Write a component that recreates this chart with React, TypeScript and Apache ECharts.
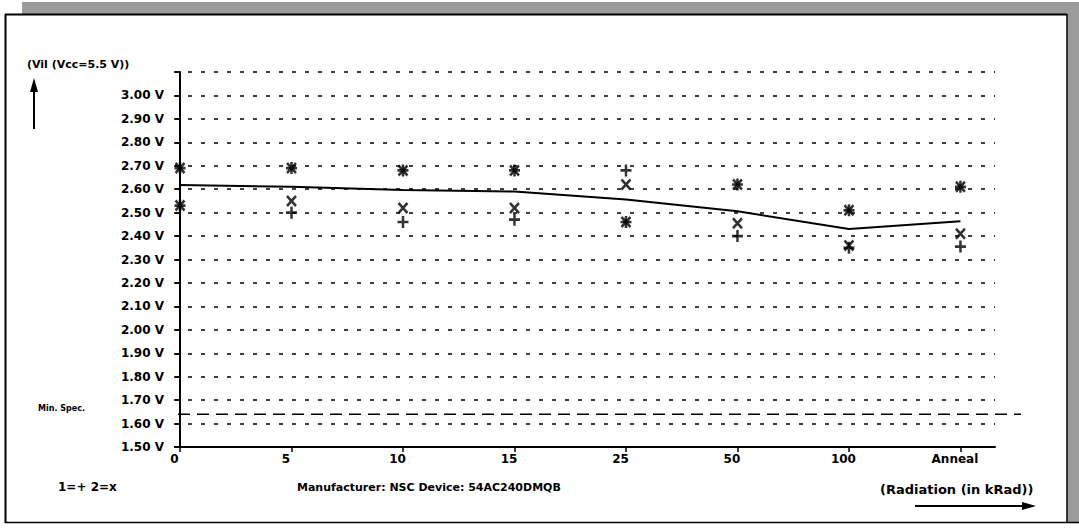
import React, { useEffect, useRef } from "react";
import * as echarts from "echarts";

const categories = ["0", "5", "10", "15", "25", "50", "100", "Anneal"];
// series 1 (+), two devices
const plusUpper = [2.69, 2.69, 2.68, 2.68, 2.68, 2.62, 2.51, 2.61];
const plusLower = [2.53, 2.5, 2.46, 2.47, 2.46, 2.4, 2.35, 2.355];
// series 2 (x), two devices
const crossUpper = [2.69, 2.69, 2.68, 2.68, 2.62, 2.62, 2.51, 2.61];
const crossLower = [2.53, 2.55, 2.52, 2.52, 2.46, 2.455, 2.36, 2.41];
// average line
const meanLine = [2.618, 2.61, 2.597, 2.59, 2.556, 2.506, 2.43, 2.463];
const minSpec = 1.64;
const yTicks = [1.5, 1.6, 1.7, 1.8, 1.9, 2.0, 2.1, 2.2, 2.3, 2.4, 2.5, 2.6, 2.7, 2.8, 2.9, 3.0, 3.1];

const FONT = "DejaVu Sans";
const PLUS = "path://M5,0L5,10M0,5L10,5";
const CROSS = "path://M0,0L10,10M10,0L0,10";

export default function App() {
  const ref = useRef<HTMLDivElement>(null);
  useEffect(() => {
    document.body.style.margin = "0";
    const chart = echarts.init(ref.current!, null, { renderer: "svg" });
    const pts = (arr: number[]) => arr.map((v, i) => [i, v]);
    const markerSeries = (data: number[], sym: string, size: number[]) => ({
      type: "scatter",
      xAxisIndex: 0,
      yAxisIndex: 0,
      data: pts(data),
      symbol: sym,
      symbolSize: size,
      itemStyle: { color: "#000", borderColor: "#000", borderWidth: 2.6 },
      z: 4,
    });
    const gray = "#9c9c9c";
    chart.setOption({
      animation: false,
      backgroundColor: "#fff",
      grid: [
        { left: 175, right: 84, top: 72, bottom: 81 },
        { left: 178, right: 58, top: 72, bottom: 81 },
      ],
      xAxis: [
        {
          type: "value",
          gridIndex: 0,
          min: -0.045,
          max: 7.31,
          axisLine: { show: true, onZero: false, lineStyle: { color: "#000", width: 2 } },
          axisTick: {
            show: true,
            length: 5,
            customValues: [0, 1, 2, 3, 4, 5, 6, 7],
            lineStyle: { color: "#000", width: 1.5 },
          },
          axisLabel: {
            customValues: [0, 1, 2, 3, 4, 5, 6, 7],
            formatter: (v: number) => categories[Math.round(v)] ?? "",
            color: "#000",
            fontFamily: FONT,
            fontWeight: "bold",
            fontSize: 12,
            margin: 6,
            padding: [0, 11, 0, 0],
          },
          splitLine: { show: false },
        },
        {
          type: "value",
          gridIndex: 1,
          min: 0,
          max: 1,
          show: false,
        },
      ],
      yAxis: [
        {
          type: "value",
          gridIndex: 0,
          min: 1.5,
          max: 3.1,
          interval: 0.1,
          axisLine: { show: true, lineStyle: { color: "#000", width: 2 } },
          axisTick: { show: true, length: 6, lineStyle: { color: "#000", width: 1.5 } },
          axisLabel: {
            formatter: (v: number) =>
              Math.abs(v - yTicks[yTicks.length - 1]) < 1e-6 ? "" : v.toFixed(2) + " V",
            color: "#000",
            fontFamily: FONT,
            fontWeight: "bold",
            fontSize: 12,
            margin: 11,
            verticalAlign: "middle",
            padding: [0, 0, 6, 0],
          },
          splitLine: {
            show: true,
            lineStyle: { color: "#000", width: 1.6, type: [4, 9] },
          },
        },
        {
          type: "value",
          gridIndex: 1,
          min: 1.5,
          max: 3.1,
          show: false,
        },
      ],
      series: [
        {
          type: "line",
          xAxisIndex: 1,
          yAxisIndex: 1,
          data: [
            [0, minSpec],
            [1, minSpec],
          ],
          symbol: "none",
          lineStyle: { color: "#000", width: 1.5, type: [12, 7] },
          z: 3,
        },
        {
          type: "line",
          xAxisIndex: 0,
          yAxisIndex: 0,
          data: pts(meanLine),
          symbol: "none",
          lineStyle: { color: "#000", width: 2 },
          z: 3,
        },
        markerSeries(plusUpper, PLUS, [11, 12]),
        markerSeries(plusLower, PLUS, [11, 12]),
        markerSeries(crossUpper, CROSS, [9, 10]),
        markerSeries(crossLower, CROSS, [9, 10]),
      ],
      graphic: [
        // shadow frame
        { type: "rect", shape: { x: 22, y: 2, width: 1057, height: 12 }, style: { fill: gray }, silent: true },
        { type: "rect", shape: { x: 1067, y: 2, width: 12, height: 521 }, style: { fill: gray }, silent: true },
        { type: "line", shape: { x1: 5, y1: 14.5, x2: 1067, y2: 14.5 }, style: { stroke: "#000", lineWidth: 2 } },
        { type: "line", shape: { x1: 5.5, y1: 14, x2: 5.5, y2: 523 }, style: { stroke: "#000", lineWidth: 2 } },
        { type: "line", shape: { x1: 5, y1: 522.5, x2: 1079, y2: 522.5 }, style: { stroke: "#000", lineWidth: 1.5 } },
        { type: "line", shape: { x1: 1067, y1: 14, x2: 1067, y2: 523 }, style: { stroke: "#000", lineWidth: 1.5 } },
        // y axis title and arrow
        {
          type: "text",
          x: 27,
          y: 64,
          style: { text: "(Vil (Vcc=5.5 V))", font: `bold 11px "${FONT}"`, fill: "#000", verticalAlign: "middle" },
        },
        { type: "line", shape: { x1: 34, y1: 129, x2: 34, y2: 88 }, style: { stroke: "#000", lineWidth: 2 } },
        { type: "polygon", shape: { points: [[34, 78], [30, 92], [38, 92]] }, style: { fill: "#000" } },
        {
          type: "text",
          x: 38,
          y: 408,
          style: { text: "Min. Spec.", font: `bold 8px "${FONT}"`, fill: "#000", verticalAlign: "middle" },
        },
        {
          type: "text",
          x: 58,
          y: 487,
          style: { text: "1=+ 2=x", font: `bold 12px "${FONT}"`, fill: "#000", verticalAlign: "middle" },
        },
        {
          type: "text",
          x: 297,
          y: 487,
          style: {
            text: "Manufacturer: NSC Device: 54AC240DMQB",
            font: `bold 11px "${FONT}"`,
            fill: "#000",
            verticalAlign: "middle",
          },
        },
        {
          type: "text",
          x: 880,
          y: 489,
          style: { text: "(Radiation (in kRad))", font: `bold 13px "${FONT}"`, fill: "#000", verticalAlign: "middle" },
        },
        { type: "line", shape: { x1: 915, y1: 506, x2: 1026, y2: 506 }, style: { stroke: "#000", lineWidth: 2 } },
        { type: "polygon", shape: { points: [[1036, 506], [1022, 502], [1022, 510]] }, style: { fill: "#000" } },
      ],
    });
    return () => chart.dispose();
  }, []);
  return <div ref={ref} style={{ width: 1079, height: 528 }} />;
}
